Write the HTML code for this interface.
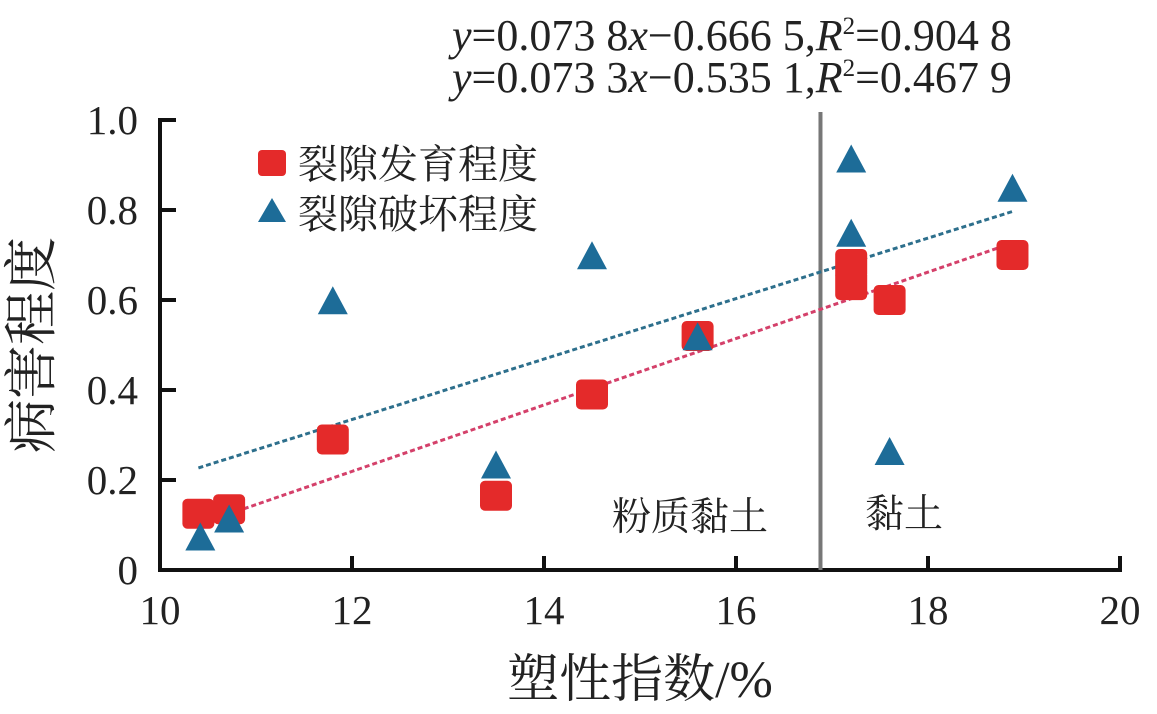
<!DOCTYPE html>
<html><head><meta charset="utf-8"><style>
body{margin:0;background:#fff;}
svg text{font-family:"Liberation Serif","Noto Serif CJK SC",serif;fill:#222;}
</style></head><body>
<svg id="chart" width="1157" height="709" xmlns="http://www.w3.org/2000/svg">
<g id="axes"></g>
<g id="marks"></g>
<text x="452" y="50" font-size="44"><tspan font-style="italic">y</tspan>=0.073 8<tspan font-style="italic">x</tspan>−0.666 5,<tspan font-style="italic">R</tspan><tspan font-size="25" dy="-16">2</tspan><tspan dy="16">=0.904 8</tspan></text>
<text x="452" y="92" font-size="44"><tspan font-style="italic">y</tspan>=0.073 3<tspan font-style="italic">x</tspan>−0.535 1,<tspan font-style="italic">R</tspan><tspan font-size="25" dy="-16">2</tspan><tspan dy="16">=0.467 9</tspan></text>
<text x="50" y="345" font-size="54" text-anchor="middle" transform="rotate(-90 50 345)">病害程度</text>
<text x="640" y="697" font-size="52" text-anchor="middle">塑性指数/%</text>
<text x="612" y="530" font-size="39">粉质黏土</text>
<text x="865" y="527" font-size="39">黏土</text>
<g>
<rect x="258" y="150" width="28" height="26" rx="4" fill="#e42a2a"/>
<text x="298" y="178" font-size="40">裂隙发育程度</text>
<polygon points="272,198 258,222 286,222" fill="#1d6c98"/>
<text x="298" y="228" font-size="40">裂隙破坏程度</text>
</g>
</svg>
<script>
const xTicks=[10,12,14,16,18,20];
const yTicks=[0,0.2,0.4,0.6,0.8,1.0];
const yTickLabels=["0","0.2","0.4","0.6","0.8","1.0"];
const devX=[10.4,10.72,11.8,13.5,14.5,15.6,17.2,17.2,17.6,18.88];
const devY=[0.125,0.135,0.29,0.165,0.39,0.52,0.68,0.633,0.60,0.70];
const dmgX=[10.42,10.72,11.8,13.5,14.5,15.6,17.2,17.2,17.6,18.88];
const dmgY=[0.07,0.11,0.595,0.23,0.695,0.515,0.91,0.745,0.26,0.845];
const fitDev=[0.0738,-0.6665];
const fitDmg=[0.0672,-0.472];
const divider=16.88;
const NS="http://www.w3.org/2000/svg";
const sx=v=>160+(v-10)*96, sy=v=>570-v*450;
function mk(p,tag,a){const e=document.createElementNS(NS,tag);for(const k in a)e.setAttribute(k,a[k]);p.appendChild(e);return e;}
const ax=document.getElementById('axes'), mg=document.getElementById('marks');
let l=mk(ax,'line',{x1:160,y1:118,x2:160,y2:572,stroke:'#111','stroke-width':4});


l=mk(ax,'line',{x1:158,y1:570,x2:1122,y2:570,stroke:'#111','stroke-width':4});


xTicks.forEach(t=>{
 const tk=mk(ax,'line',{x1:sx(t),y1:570,x2:sx(t),y2:556,stroke:'#111','stroke-width':4});
 
 
 const tx=mk(ax,'text',{x:sx(t),y:624,'font-size':41,'text-anchor':'middle'});tx.textContent=t;
 
 
});
yTicks.forEach((t,i)=>{
 const tk=mk(ax,'line',{x1:160,y1:sy(t),x2:176,y2:sy(t),stroke:'#111','stroke-width':4});
 
 
 const tx=mk(ax,'text',{x:138,y:sy(t)+14,'font-size':41,'text-anchor':'end'});tx.textContent=yTickLabels[i];
 
 
});
l=mk(mg,'line',{x1:sx(divider),y1:112,x2:sx(divider),y2:570,stroke:'#777','stroke-width':4});


function fit(f,c,name){const x0=10.4,x1=18.88;
 const e=mk(mg,'line',{x1:sx(x0),y1:sy(f[0]*x0+f[1]),x2:sx(x1),y2:sy(f[0]*x1+f[1]),stroke:c,'stroke-width':3,'stroke-dasharray':'5,3'});
 
 }
fit(fitDmg,'#2d6f8c','trendline-damage');
fit(fitDev,'#d4406a','trendline-development');
devX.forEach((x,i)=>{
 const r=mk(mg,'rect',{x:sx(x)-16,y:sy(devY[i])-15,width:32,height:30,rx:5,fill:'#e42a2a'});
 
 
});
dmgX.forEach((x,i)=>{
 const cx=sx(x),cy=sy(dmgY[i]);
 const p=mk(mg,'polygon',{points:`${cx},${cy-16} ${cx-15},${cy+12} ${cx+15},${cy+12}`,fill:'#1d6c98'});
 
 
});
</script>
</body></html>
